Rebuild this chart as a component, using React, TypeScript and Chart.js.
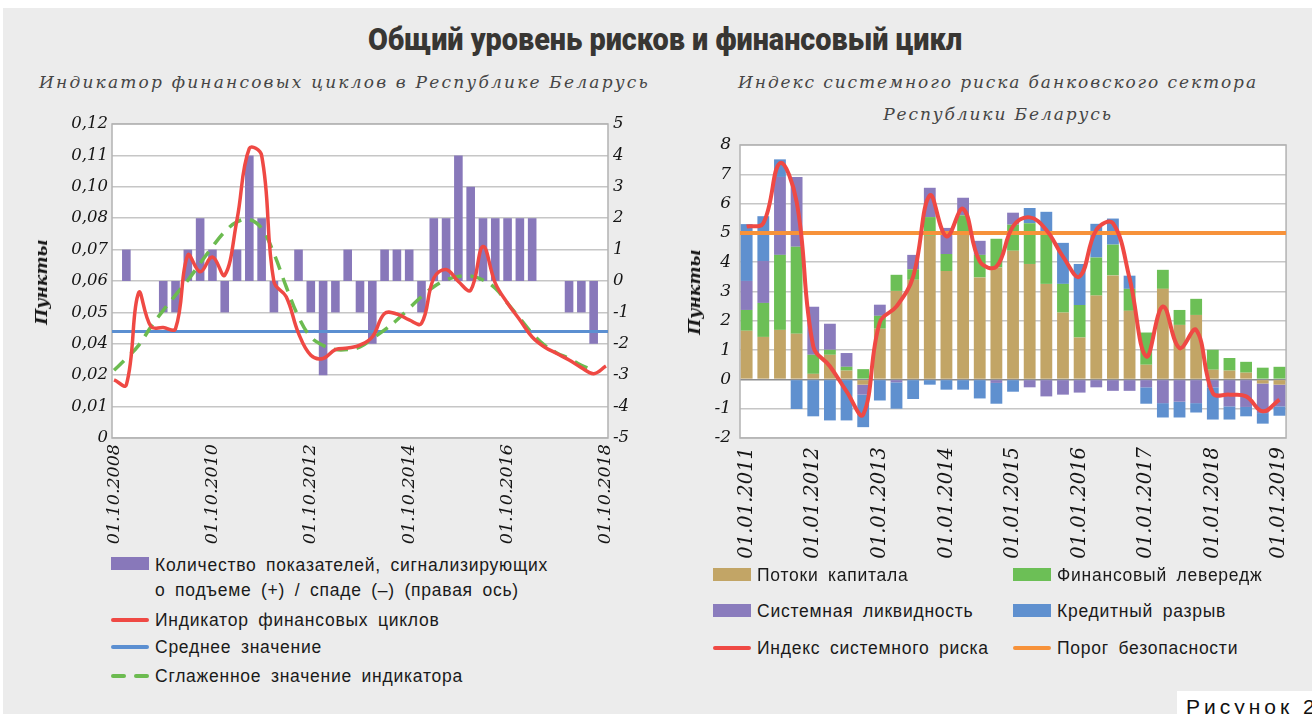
import React, { useEffect, useRef } from "react";
import { Chart, registerables } from "chart.js";

Chart.register(...registerables);

// ---------- Left chart: financial cycle indicator (quarterly, 01.10.2008 .. 01.10.2018) ----------
const LEFT_X_TICK_LABELS = ["01.10.2008", "01.10.2010", "01.10.2012", "01.10.2014", "01.10.2016", "01.10.2018"];
const LEFT_QUARTERS_PER_TICK = 8;
const LEFT_Y_TICK_LABELS = ["0", "0,01", "0,02", "0,04", "0,05", "0,06", "0,07", "0,08", "0,10", "0,11", "0,12"];
const LEFT_Y_TICK_STEP = 0.012;

// Number of indicators signalling upturn (+) / downturn (−), right axis
const SIGNAL_COUNTS = [
  0, 1, 0, 0, -1, -1, 1, 2, 1, -1,
  1, 4, 2, -1, 0, 1, -1, -3, -1, 1,
  -1, -2, 1, 1, 1, -1, 2, 2, 4, 3,
  2, 2, 2, 2, 2, 0, 0, -1, -1, -2,
  0,
];
// Financial cycle indicator
const CYCLE_INDICATOR = [
  0.0222, 0.0203, 0.0555, 0.0426, 0.0422, 0.0418, 0.0699, 0.0635, 0.0692, 0.0622,
  0.0835, 0.1107, 0.108, 0.0597, 0.054, 0.04, 0.0316, 0.0304, 0.0338, 0.0344,
  0.0355, 0.0386, 0.0476, 0.0474, 0.0451, 0.0438, 0.0611, 0.0644, 0.0598, 0.0565,
  0.0732, 0.0592, 0.0515, 0.0451, 0.0386, 0.0348, 0.0323, 0.0298, 0.0269, 0.0246,
  0.0275,
];
// Smoothed indicator
const SMOOTHED_INDICATOR = [
  0.0259, 0.0304, 0.0354, 0.0425, 0.0488, 0.0546, 0.0603, 0.0667, 0.0731, 0.0788,
  0.0826, 0.0835, 0.0801, 0.0705, 0.0578, 0.0463, 0.0386, 0.0354, 0.0338, 0.0338,
  0.0348, 0.038, 0.0413, 0.0451, 0.0496, 0.054, 0.0578, 0.0604, 0.0617, 0.0619,
  0.0604, 0.0572, 0.0515, 0.0457, 0.04, 0.0355, 0.0325, 0.0304, 0.0278, 0.0259,
  null,
];
const MEAN_VALUE = 0.0407;

// ---------- Right chart: systemic risk index (quarterly, 01.01.2011 .. 01.01.2019) ----------
const RIGHT_X_TICK_LABELS = [
  "01.01.2011", "01.01.2012", "01.01.2013", "01.01.2014", "01.01.2015",
  "01.01.2016", "01.01.2017", "01.01.2018", "01.01.2019",
];
const RIGHT_QUARTERS_PER_TICK = 4;
const CAPITAL_FLOWS = [
  1.66, 1.45, 1.69, 1.56, 0.19, 0.84, 0.3, -0.18, 1.73, 3.02,
  3.4, 4.9, 3.7, 4.95, 3.48, 3.82, 4.39, 3.94, 3.26, 2.28,
  1.43, 2.86, 3.55, 2.34, 0.5, 3.09, 1.86, 2.2, 0.33, 0.3,
  0.23, -0.14, -0.18,
];
const FIN_LEVERAGE = [
  0.71, 1.16, 2.56, 2.97, 0.65, 0.17, 0.13, 0.35, 0.44, 0.55,
  0.36, 0.64, 0.58, 0.65, 0.77, 0.98, 0.89, 1.39, 1.79, 0.98,
  1.11, 1.3, 1.05, 0.75, 1.1, 0.65, 0.51, 0.55, 0.68, 0.43,
  0.37, 0.4, 0.43,
];
const SYS_LIQUIDITY = [
  0.99, 1.43, 2.66, 2.38, 1.64, 0.89, 0.47, -0.34, 0.38, -0.1,
  0.49, 1.0, 0.89, 0.6, 0.48, -0.12, 0.41, -0.27, -0.58, -0.52,
  -0.45, -0.27, -0.39, -0.39, -0.27, -0.81, -0.76, -0.81, -0.27, -0.92,
  -0.94, -1.01, -0.74,
];
const CREDIT_GAP = [
  1.94, 1.53, 0.6, -1.01, -1.26, -1.4, -1.4, -1.11, -0.72, -0.9,
  -0.67, -0.18, -0.35, -0.35, -0.65, -0.71, -0.42, 0.52, 0.67, 1.4,
  1.4, 1.15, 0.89, 0.45, -0.56, -0.49, -0.54, -0.32, -1.1, -0.45,
  -0.32, -0.36, -0.32,
];
const RISK_INDEX = [
  5.22, 5.33, 7.38, 6.07, 1.13, 0.45, -0.41, -1.2, 1.95, 2.49,
  3.51, 6.28, 4.88, 5.82, 4.03, 3.85, 5.22, 5.53, 5.1, 4.19,
  3.51, 5.1, 5.33, 3.45, 0.78, 2.49, 1.07, 1.69, -0.47, -0.52,
  -0.58, -1.09, -0.69,
];
const SAFETY_THRESHOLD = 5;

// ---------- styles ----------
const SERIF = '"DejaVu Serif", "Liberation Serif", serif';
const SANS = '"Liberation Sans", Arial, sans-serif';
const C = {
  purple: "#8878ba",
  red: "#ef4944",
  blue: "#5b8fd1",
  green: "#6cbb50",
  tan: "#c2a566",
  green2: "#6cbf56",
  purple2: "#8a7cbd",
  blue2: "#5f90cf",
  orange: "#f7923a",
  grid: "#c6c6c6",
  frame: "#b2b2b2",
  text: "#151515",
};

const framePlugin = {
  id: "plotFrame",
  beforeDraw(chart: any) {
    const { ctx, chartArea: a } = chart;
    ctx.save();
    ctx.fillStyle = "#ffffff";
    ctx.fillRect(a.left, a.top, a.right - a.left, a.bottom - a.top);
    ctx.restore();
  },
  beforeDatasetsDraw(chart: any) {
    const { ctx, chartArea: a } = chart;
    ctx.save();
    ctx.strokeStyle = C.frame;
    ctx.lineWidth = 1.5;
    ctx.strokeRect(a.left, a.top, a.right - a.left, a.bottom - a.top);
    ctx.restore();
  },
};

const tickFont = (size: number) => ({ family: SERIF, style: "italic" as const, size });

function LeftChart() {
  const ref = useRef<HTMLCanvasElement>(null);
  useEffect(() => {
    const last = SIGNAL_COUNTS.length - 1;
    const xMin = -1 / 6;
    const xMax = last + 1 / 6;
    const chart = new Chart(ref.current as HTMLCanvasElement, {
      type: "bar",
      data: {
        datasets: [
          {
            type: "line",
            label: "Индикатор финансовых циклов",
            data: CYCLE_INDICATOR.map((v, i) => ({ x: i, y: v })),
            yAxisID: "yL",
            borderColor: C.red,
            borderWidth: 3.5,
            pointRadius: 0,
            tension: 0.4,
            order: 0,
          },
          {
            type: "line",
            label: "Сглаженное значение индикатора",
            data: SMOOTHED_INDICATOR.map((v, i) => ({ x: i, y: v })),
            yAxisID: "yL",
            borderColor: C.green,
            borderWidth: 3.5,
            borderDash: [14, 9],
            pointRadius: 0,
            tension: 0.4,
            order: 1,
          },
          {
            type: "line",
            label: "Среднее значение",
            data: [
              { x: xMin, y: MEAN_VALUE },
              { x: xMax, y: MEAN_VALUE },
            ],
            yAxisID: "yL",
            borderColor: C.blue,
            borderWidth: 3,
            pointRadius: 0,
            order: 2,
          },
          {
            type: "bar",
            label: "Количество показателей",
            data: SIGNAL_COUNTS.map((v, i) => ({ x: i, y: v })),
            yAxisID: "yR",
            backgroundColor: C.purple,
            barPercentage: 0.7,
            categoryPercentage: 1,
            inflateAmount: 0,
            order: 3,
          },
        ] as any,
      },
      options: {
        animation: false,
        responsive: false,
        maintainAspectRatio: false,
        layout: { padding: { top: 24, left: 0, right: 0, bottom: 0 } },
        plugins: { legend: { display: false }, tooltip: { enabled: false } },
        scales: {
          x: {
            type: "linear",
            min: xMin,
            max: xMax,
            offset: false,
            grid: { display: false, drawTicks: false },
            border: { display: false },
            afterBuildTicks: (ax: any) => {
              ax.ticks = LEFT_X_TICK_LABELS.map((_, i) => ({ value: i * LEFT_QUARTERS_PER_TICK }));
            },
            afterFit: (ax: any) => {
              ax.height = 112;
            },
            ticks: {
              autoSkip: false,
              minRotation: 90,
              maxRotation: 90,
              padding: 6,
              color: C.text,
              font: tickFont(17.5),
              callback: (_v: any, i: number) => LEFT_X_TICK_LABELS[i],
            },
          },
          yL: {
            type: "linear",
            position: "left",
            min: 0,
            max: 0.12,
            afterBuildTicks: (ax: any) => {
              ax.ticks = LEFT_Y_TICK_LABELS.map((_, i) => ({ value: i * LEFT_Y_TICK_STEP }));
            },
            afterFit: (ax: any) => {
              ax.width = 112;
            },
            grid: { color: C.grid, lineWidth: 1.5, drawTicks: false },
            border: { display: false },
            ticks: {
              padding: 4,
              color: C.text,
              font: tickFont(16.5),
              callback: (_v: any, i: number) => LEFT_Y_TICK_LABELS[i],
            },
          },
          yR: {
            type: "linear",
            position: "right",
            min: -5,
            max: 5,
            afterFit: (ax: any) => {
              ax.width = 52;
            },
            grid: { display: false, drawTicks: false },
            border: { display: false },
            ticks: { stepSize: 1, padding: 5, color: C.text, font: tickFont(16.5) },
          },
        },
      } as any,
      plugins: [framePlugin],
    });
    return () => chart.destroy();
  }, []);
  return (
    <canvas
      ref={ref}
      width={660}
      height={450}
      style={{ position: "absolute", left: 0, top: 100, width: 660, height: 450 }}
    />
  );
}

function RightChart() {
  const ref = useRef<HTMLCanvasElement>(null);
  useEffect(() => {
    const last = CAPITAL_FLOWS.length - 1;
    const xMin = -0.4;
    const xMax = last + 0.4;
    const pts = (arr: number[]) => arr.map((v, i) => ({ x: i, y: v }));
    const barCommon = {
      type: "bar",
      stack: "components",
      barPercentage: 0.71,
      categoryPercentage: 1,
      order: 2,
    };
    const chart = new Chart(ref.current as HTMLCanvasElement, {
      type: "bar",
      data: {
        datasets: [
          {
            type: "line",
            label: "Индекс системного риска",
            data: pts(RISK_INDEX),
            stack: "risk",
            borderColor: C.red,
            borderWidth: 4,
            pointRadius: 0,
            tension: 0.4,
            order: 0,
          },
          {
            type: "line",
            label: "Порог безопасности",
            data: [
              { x: xMin, y: SAFETY_THRESHOLD },
              { x: xMax, y: SAFETY_THRESHOLD },
            ],
            stack: "threshold",
            borderColor: C.orange,
            borderWidth: 4,
            pointRadius: 0,
            order: 1,
          },
          { ...barCommon, label: "Потоки капитала", data: pts(CAPITAL_FLOWS), backgroundColor: C.tan },
          { ...barCommon, label: "Финансовый левередж", data: pts(FIN_LEVERAGE), backgroundColor: C.green2 },
          { ...barCommon, label: "Системная ликвидность", data: pts(SYS_LIQUIDITY), backgroundColor: C.purple2 },
          { ...barCommon, label: "Кредитный разрыв", data: pts(CREDIT_GAP), backgroundColor: C.blue2 },
        ] as any,
      },
      options: {
        animation: false,
        responsive: false,
        maintainAspectRatio: false,
        layout: { padding: { top: 45, left: 0, right: 16, bottom: 0 } },
        plugins: { legend: { display: false }, tooltip: { enabled: false } },
        scales: {
          x: {
            type: "linear",
            min: xMin,
            max: xMax,
            offset: false,
            stacked: true,
            grid: { display: false, drawTicks: false },
            border: { display: false },
            afterBuildTicks: (ax: any) => {
              ax.ticks = RIGHT_X_TICK_LABELS.map((_, i) => ({ value: i * RIGHT_QUARTERS_PER_TICK }));
            },
            afterFit: (ax: any) => {
              ax.height = 132;
            },
            ticks: {
              autoSkip: false,
              minRotation: 90,
              maxRotation: 90,
              padding: 9,
              color: C.text,
              font: tickFont(19.5),
              callback: (_v: any, i: number) => RIGHT_X_TICK_LABELS[i],
            },
          },
          y: {
            type: "linear",
            min: -2,
            max: 8,
            stacked: true,
            afterFit: (ax: any) => {
              ax.width = 80;
            },
            grid: {
              color: (ctx: any) => (ctx.tick && ctx.tick.value === 0 ? "#8e8e8e" : C.grid),
              lineWidth: 1.5,
              drawTicks: false,
            },
            border: { display: false },
            ticks: { stepSize: 1, padding: 9, color: C.text, font: tickFont(17) },
          },
        },
      } as any,
      plugins: [framePlugin],
    });
    return () => chart.destroy();
  }, []);
  return (
    <canvas
      ref={ref}
      width={652}
      height={470}
      style={{ position: "absolute", left: 660, top: 100, width: 652, height: 470 }}
    />
  );
}

const legendText: React.CSSProperties = {
  position: "absolute",
  font: `17.5px ${SANS}`,
  color: "#1a1a1a",
  whiteSpace: "nowrap",
  lineHeight: "20px",
  height: 20,
  wordSpacing: "4px",
  letterSpacing: "0.75px",
};

function Swatch({ x, cy, color, kind }: { x: number; cy: number; color: string; kind: "box" | "line" | "dash" }) {
  if (kind === "box") {
    return <div style={{ position: "absolute", left: x, top: cy - 7, width: 38, height: 13, background: color }} />;
  }
  if (kind === "line") {
    return <div style={{ position: "absolute", left: x, top: cy - 2, width: 38, height: 4, borderRadius: 2, background: color }} />;
  }
  return (
    <>
      <div style={{ position: "absolute", left: x, top: cy - 2, width: 15, height: 4, borderRadius: 2, background: color }} />
      <div style={{ position: "absolute", left: x + 23, top: cy - 2, width: 15, height: 4, borderRadius: 2, background: color }} />
    </>
  );
}

function LegendRow({ x, cy, color, kind, text }: { x: number; cy: number; color: string; kind: "box" | "line" | "dash"; text: string }) {
  return (
    <>
      <Swatch x={x} cy={cy} color={color} kind={kind} />
      <div style={{ ...legendText, left: x + 44, top: cy - 10 }}>{text}</div>
    </>
  );
}

export default function App() {
  return (
    <div style={{ position: "absolute", left: 0, top: 0, width: 1312, height: 714, overflow: "hidden", background: "#ffffff" }}>
      <div style={{ position: "absolute", left: 3, top: 8, width: 1309, height: 706, background: "#ececec" }} />

      <div
        style={{
          position: "absolute",
          left: 0,
          top: 23,
          width: 1330,
          textAlign: "center",
          font: `900 32px Roboto, ${SANS}`,
          lineHeight: "32px",
          color: "#383633",
          transform: "scaleX(0.9)",
          transformOrigin: "665px 0",
          whiteSpace: "nowrap",
        }}
      >
        Общий уровень рисков и финансовый цикл
      </div>

      <div
        style={{
          position: "absolute",
          left: 0,
          top: 72,
          width: 689,
          textAlign: "center",
          font: `italic 17px ${SERIF}`,
          lineHeight: "20px",
          letterSpacing: "2.2px",
          color: "#454545",
          whiteSpace: "nowrap",
        }}
      >
        Индикатор финансовых циклов в Республике Беларусь
      </div>
      <div
        style={{
          position: "absolute",
          left: 698,
          top: 66,
          width: 600,
          textAlign: "center",
          font: `italic 17px ${SERIF}`,
          lineHeight: "32px",
          letterSpacing: "1.9px",
          color: "#454545",
          whiteSpace: "nowrap",
        }}
      >
        Индекс системного риска банковского сектора
        <br />
        Республики Беларусь
      </div>

      <LeftChart />
      <RightChart />

      <div
        style={{
          position: "absolute",
          left: 41,
          top: 282,
          transform: "translate(-50%, -50%) rotate(-90deg)",
          font: `italic bold 17px ${SERIF}`,
          color: C.text,
          whiteSpace: "nowrap",
        }}
      >
        Пункты
      </div>
      <div
        style={{
          position: "absolute",
          left: 694,
          top: 292,
          transform: "translate(-50%, -50%) rotate(-90deg)",
          font: `italic bold 17px ${SERIF}`,
          color: C.text,
          whiteSpace: "nowrap",
        }}
      >
        Пункты
      </div>

      {/* left legend */}
      <Swatch x={111} cy={564} color={C.purple} kind="box" />
      <div style={{ ...legendText, left: 155, top: 555 }}>Количество показателей, сигнализирующих</div>
      <div style={{ ...legendText, left: 155, top: 580 }}>о подъеме (+) / спаде (–) (правая ось)</div>
      <LegendRow x={111} cy={620} color={C.red} kind="line" text="Индикатор финансовых циклов" />
      <LegendRow x={111} cy={647} color={C.blue} kind="line" text="Среднее значение" />
      <LegendRow x={111} cy={676} color={C.green} kind="dash" text="Сглаженное значение индикатора" />

      {/* right legend */}
      <LegendRow x={713} cy={575} color={C.tan} kind="box" text="Потоки капитала" />
      <LegendRow x={1013} cy={575} color={C.green2} kind="box" text="Финансовый левередж" />
      <LegendRow x={713} cy={611} color={C.purple2} kind="box" text="Системная ликвидность" />
      <LegendRow x={1013} cy={611} color={C.blue2} kind="box" text="Кредитный разрыв" />
      <LegendRow x={713} cy={648} color={C.red} kind="line" text="Индекс системного риска" />
      <LegendRow x={1013} cy={648} color={C.orange} kind="line" text="Порог безопасности" />

      <div
        style={{
          position: "absolute",
          left: 1177,
          top: 691,
          width: 200,
          height: 40,
          background: "#ffffff",
          paddingLeft: 9,
          paddingTop: 4,
          boxSizing: "border-box",
          font: `21px ${SANS}`,
          lineHeight: "24px",
          letterSpacing: "4px",
          color: "#111",
          whiteSpace: "nowrap",
        }}
      >
        Рисунок 2
      </div>
    </div>
  );
}
